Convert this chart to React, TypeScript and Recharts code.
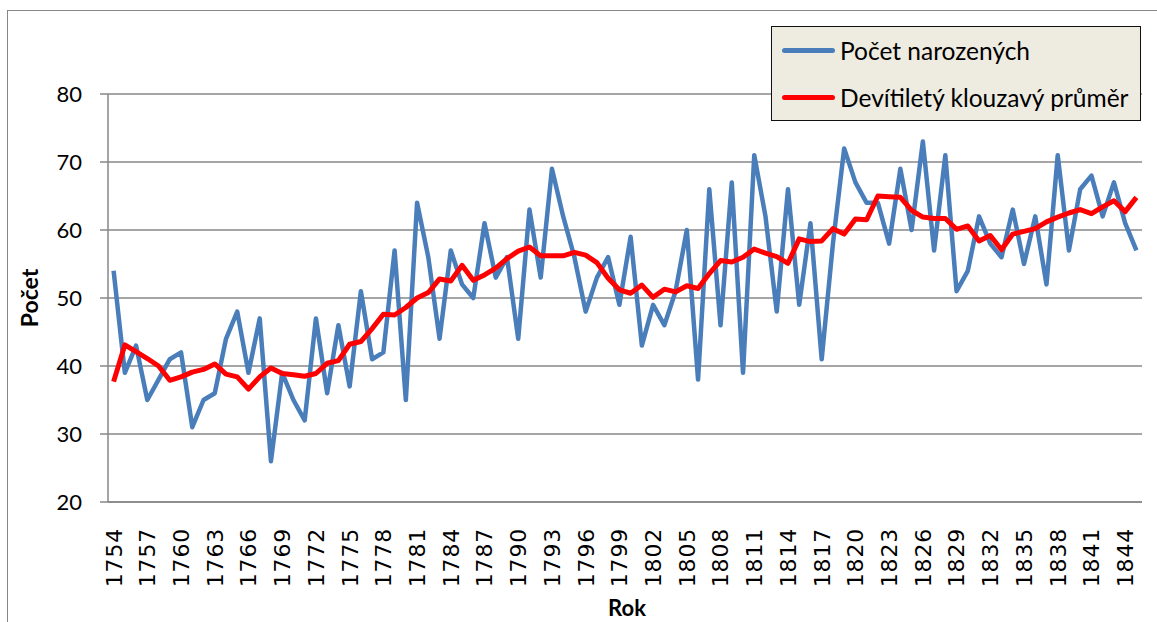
import React from 'react'
import { LineChart, Line, XAxis, YAxis, CartesianGrid, Legend, Label } from 'recharts'

// years 1754 .. 1845
const years: number[] = Array.from({ length: 92 }, (_, i) => 1754 + i)

const births: number[] = [
  54, 39, 43, 35, 38, 41, 42, 31, 35, 36,
  44, 48, 39, 47, 26, 39, 35, 32, 47, 36,
  46, 37, 51, 41, 42, 57, 35, 64, 56, 44,
  57, 52, 50, 61, 53, 56, 44, 63, 53, 69,
  62, 56, 48, 53, 56, 49, 59, 43, 49, 46,
  51, 60, 38, 66, 46, 67, 39, 71, 62, 48,
  66, 49, 61, 41, 58, 72, 67, 64, 64, 58,
  69, 60, 73, 57, 71, 51, 54, 62, 58, 56,
  63, 55, 62, 52, 71, 57, 66, 68, 62, 67,
  61, 57,
]

const movingAvg: number[] = [
  37.7, 43.1, 42.1, 41.1, 40.0, 37.9, 38.4, 39.1, 39.5, 40.3,
  38.8, 38.4, 36.6, 38.4, 39.7, 38.9, 38.7, 38.5, 38.9, 40.4,
  40.8, 43.2, 43.6, 45.5, 47.6, 47.5, 48.6, 50.0, 50.8, 52.8,
  52.5, 54.8, 52.6, 53.4, 54.4, 55.8, 56.9, 57.5, 56.2, 56.2,
  56.2, 56.7, 56.3, 55.2, 52.9, 51.2, 50.7, 51.9, 50.1, 51.3,
  50.9, 51.8, 51.4, 53.6, 55.5, 55.3, 56.0, 57.2, 56.6, 56.1,
  55.1, 58.7, 58.3, 58.4, 60.2, 59.4, 61.6, 61.5, 65.0, 64.9,
  64.8, 62.9, 61.9, 61.7, 61.7, 60.1, 60.6, 58.4, 59.2, 57.1,
  59.4, 59.8, 60.2, 61.2, 61.9, 62.5, 63.0, 62.4, 63.4, 64.3,
  62.7, 64.8,
]

const yTicks = [20, 30, 40, 50, 60, 70, 80]

const BLUE = '#4A7EBB'
const RED = '#FF0000'
const GRID = '#878787'

const data = years.map((y, i) => ({ year: String(y), births: births[i], avg: movingAvg[i] }))

const YearTick = (props: any) => {
  const { x, payload } = props
  return (
    <text
      transform={`translate(${x}, 528) rotate(-90)`}
      textAnchor="end"
      dy="0.36em"
      fill="#000"
      fontFamily="DejaVu Sans"
      fontSize={22}
      letterSpacing={0.8}
    >
      {payload.value}
    </text>
  )
}

const LegendBox = () => {
  const rows = [
    { label: 'Počet narozených', color: BLUE, w: 4.5 },
    { label: 'Devítiletý klouzavý průměr', color: RED, w: 5 },
  ]
  return (
    <div
      style={{
        width: 368,
        height: 93,
        background: '#EEEBE1',
        border: '1.5px solid #111',
        boxSizing: 'content-box',
        fontFamily: 'Lato',
        fontSize: 24.5,
        color: '#000',
      }}
    >
      {rows.map((r, i) => (
        <div key={r.label} style={{ display: 'flex', alignItems: 'center', height: 47, marginTop: i === 0 ? 0 : 0 }}>
          <span
            style={{
              display: 'inline-block',
              width: 53,
              height: r.w,
              borderRadius: r.w,
              background: r.color,
              marginLeft: 10,
              marginRight: 5,
            }}
          />
          <span style={{ whiteSpace: 'nowrap' }}>{r.label}</span>
        </div>
      ))}
    </div>
  )
}

export default function App() {
  return (
    <div style={{ position: 'absolute', left: 0, top: 0, width: 1157, height: 622, overflow: 'hidden', background: '#fff' }}>
      <div
        style={{
          position: 'absolute',
          left: 7,
          top: 10,
          width: 1160,
          height: 620,
          borderLeft: `1.5px solid ${GRID}`,
          borderTop: `1.5px solid ${GRID}`,
        }}
      />
      <LineChart width={1157} height={622} data={data} margin={{ top: 94, right: 15, bottom: 0, left: 0 }}>
        <CartesianGrid vertical={false} stroke={GRID} strokeWidth={1.5} />
        <XAxis
          dataKey="year"
          interval={2}
          height={120}
          padding={{ left: 5.6, right: 5.6 }}
          axisLine={{ stroke: GRID, strokeWidth: 1.5 }}
          tickLine={false}
          tick={<YearTick />}
        >
          <Label
            content={() => (
              <text x={627} y={616} textAnchor="middle" fontFamily="Lato" fontWeight={700} fontSize={22} fill="#000">
                Rok
              </text>
            )}
          />
        </XAxis>
        <YAxis
          width={108}
          domain={[20, 80]}
          ticks={yTicks}
          interval={0}
          axisLine={{ stroke: GRID, strokeWidth: 1.5 }}
          tickLine={{ stroke: GRID, strokeWidth: 1.5 }}
          tickSize={8}
          tickMargin={18}
          tick={{ fill: '#000', fontFamily: 'Lato', fontSize: 22 }}
        >
          <Label
            content={() => (
              <text
                transform="translate(38, 298) rotate(-90)"
                textAnchor="middle"
                fontFamily="Lato"
                fontWeight={700}
                fontSize={23}
                fill="#000"
              >
                Počet
              </text>
            )}
          />
        </YAxis>
        <Legend
          layout="horizontal"
          verticalAlign="middle"
          align="center"
          wrapperStyle={{ left: 771, top: 26, width: 371, height: 96 }}
          content={<LegendBox />}
        />
        <Line
          type="linear"
          dataKey="births"
          name="Počet narozených"
          stroke={BLUE}
          strokeWidth={4.5}
          dot={false}
          strokeLinejoin="round"
          isAnimationActive={false}
        />
        <Line
          type="linear"
          dataKey="avg"
          name="Devítiletý klouzavý průměr"
          stroke={RED}
          strokeWidth={5}
          dot={false}
          strokeLinejoin="round"
          isAnimationActive={false}
        />
      </LineChart>
    </div>
  )
}
